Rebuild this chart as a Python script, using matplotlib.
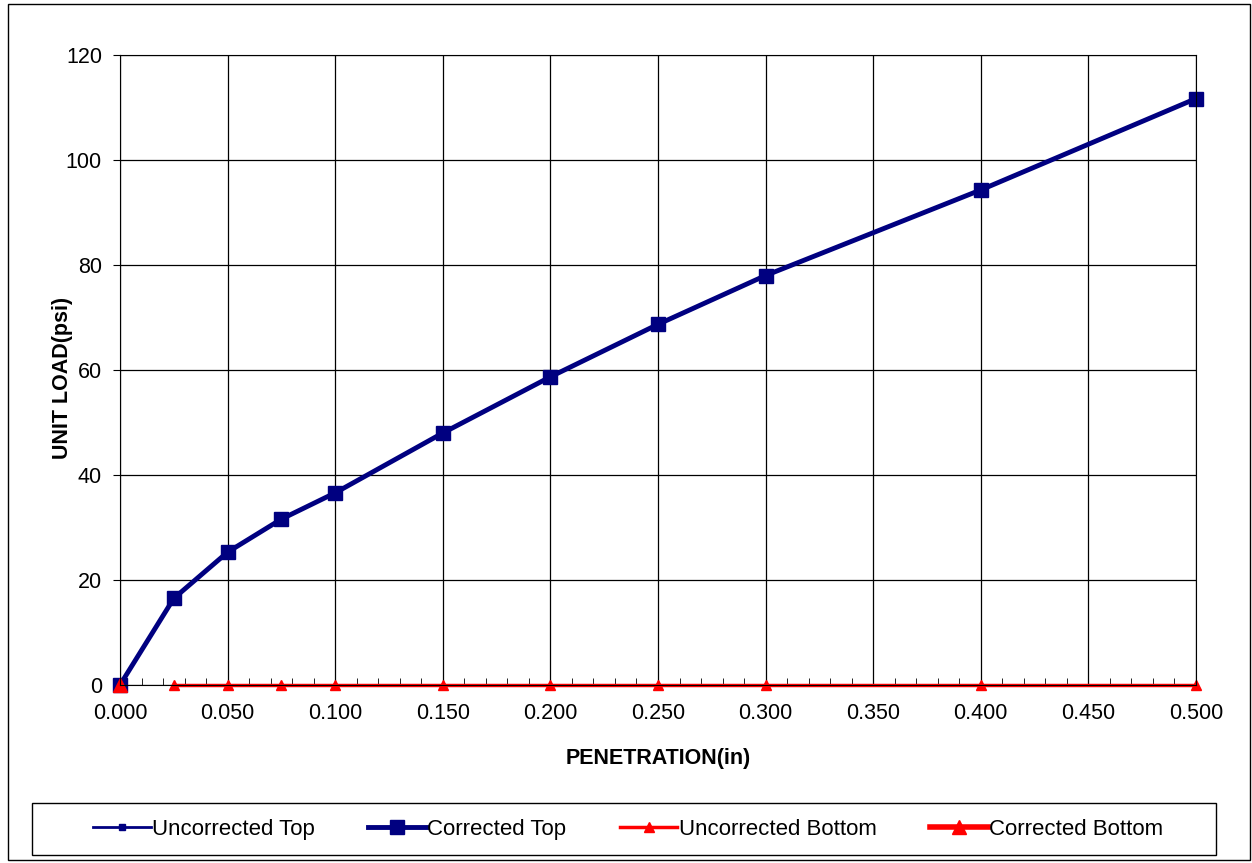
import matplotlib.pyplot as plt
from matplotlib.patches import Rectangle
from matplotlib.ticker import MultipleLocator, FormatStrFormatter

plt.rcParams['font.family'] = ['Liberation Sans', 'DejaVu Sans']

pen = [0.0, 0.025, 0.05, 0.075, 0.1, 0.15, 0.2, 0.25, 0.3, 0.4, 0.5]
corr_top = [0.0, 16.5, 25.3, 31.6, 36.6, 48.0, 58.7, 68.7, 78.0, 94.3, 111.7]
uncorr_top = [0.0, 16.5, 25.3, 31.6, 36.6, 48.0, 58.7, 68.7, 78.0, 94.3, 111.7]
uncorr_bot_x = [0.025, 0.05, 0.075, 0.1, 0.15, 0.2, 0.25, 0.3, 0.4, 0.5]
uncorr_bot = [0, 0, 0, 0, 0, 0, 0, 0, 0, 0]
corr_bot_x = [0.0]
corr_bot = [0]

fig = plt.figure(figsize=(12.52, 8.63), dpi=100)
ax = fig.add_axes([120/1252, 1-685/863, (1196-120)/1252, (685-55)/863])

ax.plot(pen, uncorr_top, color='#000080', lw=2, marker='s', ms=4, label='Uncorrected Top', clip_on=False)
ax.plot(pen, corr_top, color='#000080', lw=3.5, marker='s', ms=10, label='Corrected Top', clip_on=False)
ax.plot(uncorr_bot_x, uncorr_bot, color='#ff0000', lw=2.5, marker='^', ms=7, label='Uncorrected Bottom', clip_on=False)
ax.plot(corr_bot_x, corr_bot, color='#ff0000', lw=4, marker='^', ms=10, label='Corrected Bottom', clip_on=False)

ax.set_xlim(0, 0.5)
ax.set_ylim(0, 120)
ax.xaxis.set_major_locator(MultipleLocator(0.05))
ax.xaxis.set_minor_locator(MultipleLocator(0.01))
ax.xaxis.set_major_formatter(FormatStrFormatter('%.3f'))
ax.yaxis.set_major_locator(MultipleLocator(20))
ax.grid(True, which='major', color='black', lw=0.9)
ax.tick_params(axis='x', which='major', length=0, labelsize=15.5, pad=13)
ax.tick_params(axis='x', which='minor', direction='in', length=5, color='black')
ax.tick_params(axis='y', which='major', direction='out', length=5, labelsize=15.5, pad=8)
for s in ax.spines.values():
    s.set_color('black')

ax.set_xlabel('PENETRATION(in)', fontsize=15.5, fontweight='bold', labelpad=17)
ax.set_ylabel('UNIT LOAD(psi)', fontsize=15.5, fontweight='bold')
ax.yaxis.set_label_coords(-0.0437, 0.487)

fig.patches.append(Rectangle((8/1252, 3/863), 1242/1252, 856/863, transform=fig.transFigure,
                             fill=False, edgecolor='black', lw=1))
fig.patches.append(Rectangle((32/1252, 8/863), 1184/1252, 52/863, transform=fig.transFigure,
                             fill=False, edgecolor='black', lw=1))

leg = fig.legend(loc='center', ncol=4, bbox_to_anchor=(628/1252, 34/863),
                 fontsize=16, frameon=False,
                 handlelength=2.6, handletextpad=0.05, columnspacing=2.4, borderaxespad=0)

fig.savefig('out.png', dpi=100)
